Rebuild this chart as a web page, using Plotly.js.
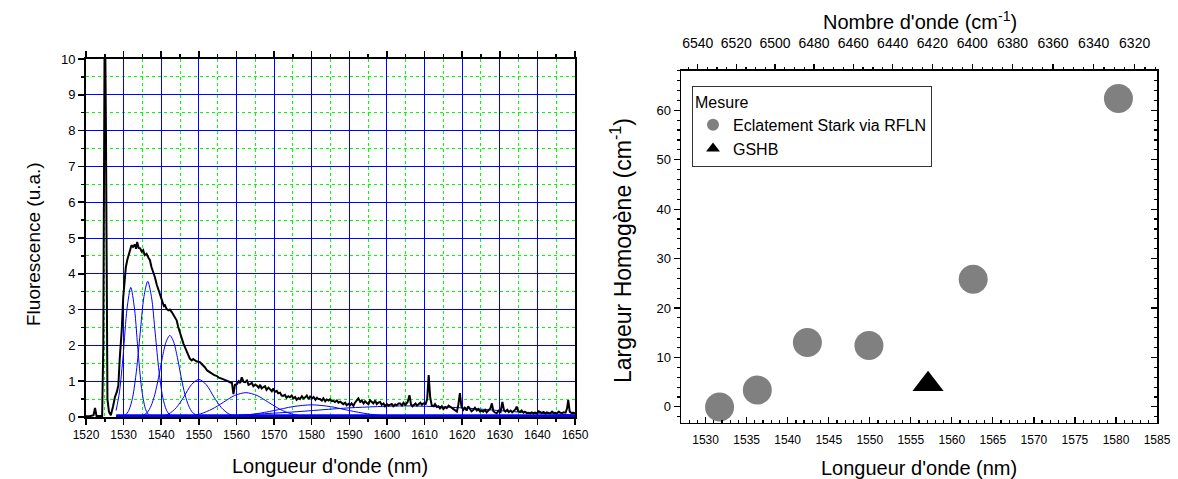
<!DOCTYPE html>
<html>
<head>
<meta charset="utf-8">
<script src="https://cdn.plot.ly/plotly-3.0.1.min.js"></script>
<style>html,body{margin:0;padding:0;background:#fff;}#chart{width:1178px;height:479px;}</style>
</head>
<body>
<div id="chart"></div>
<script>
// ---------- Left panel: fluorescence spectrum ----------
var specX = [1520.0,1521.0,1522.0,1522.4,1522.8,1523.5,1524.3,1524.6,1525.0,1525.3,1525.7,1526.1,1526.6,1527.2,1527.7,1528.2,1528.6,1529.0,1529.5,1529.9,1530.3,1530.6,1531.0,1531.5,1532.1,1532.5,1533.0,1533.3,1533.6,1534.0,1534.4,1534.8,1535.2,1535.6,1536.1,1536.6,1537.0,1537.4,1537.9,1538.3,1538.8,1539.2,1539.7,1540.1,1540.7,1541.0,1541.4,1541.9,1542.3,1542.8,1543.2,1543.6,1544.1,1544.5,1545.0,1545.5,1545.9,1546.3,1546.8,1547.2,1547.6,1548.1,1548.5,1549.0,1549.5,1550.3,1550.8,1551.2,1551.6,1552.2,1552.9,1553.5,1554.1,1554.7,1555.3,1555.9,1556.5,1557.1,1557.7,1558.3,1558.8,1559.2,1559.6,1560.1,1560.6,1561.0,1561.4,1561.9,1562.3,1562.8,1563.2,1563.6,1564.1,1564.5,1565.0,1565.4,1565.9,1566.3,1566.7,1567.1,1567.6,1568.0,1568.5,1568.9,1569.4,1569.8,1570.2,1570.7,1571.1,1571.6,1572.0,1572.4,1572.9,1573.3,1573.8,1574.2,1574.7,1575.1,1575.6,1576.0,1576.5,1576.9,1577.4,1577.8,1578.3,1578.7,1579.2,1579.6,1580.1,1580.5,1581.0,1581.4,1581.8,1582.2,1582.7,1583.1,1583.6,1584.0,1584.5,1584.9,1585.3,1585.8,1586.2,1586.7,1587.1,1587.6,1588.0,1588.4,1588.9,1589.3,1589.8,1590.2,1590.6,1591.1,1591.5,1592.0,1592.4,1592.9,1593.3,1593.8,1594.2,1594.6,1595.1,1595.5,1596.0,1596.4,1596.9,1597.3,1597.7,1598.2,1598.6,1599.1,1599.5,1600.0,1600.4,1600.8,1601.3,1601.7,1602.2,1602.6,1603.1,1603.5,1604.0,1604.4,1604.9,1605.5,1606.0,1606.4,1606.8,1607.1,1607.6,1608.0,1608.5,1608.9,1609.3,1609.7,1610.3,1610.7,1611.1,1611.5,1611.9,1612.4,1612.8,1613.3,1613.7,1614.1,1614.6,1615.0,1615.5,1615.9,1616.4,1616.8,1617.2,1617.7,1618.1,1618.6,1619.0,1619.4,1619.8,1620.3,1620.7,1621.2,1621.6,1622.1,1622.5,1623.0,1623.4,1623.9,1624.3,1624.8,1625.2,1625.6,1626.1,1626.5,1627.0,1627.5,1627.9,1628.3,1628.8,1629.2,1629.7,1630.2,1630.7,1631.1,1631.5,1632.0,1632.4,1632.9,1633.3,1633.8,1634.2,1634.5,1634.9,1635.4,1635.8,1636.3,1636.7,1637.2,1637.6,1638.1,1638.5,1639.0,1639.4,1639.9,1640.3,1640.7,1641.2,1641.6,1642.1,1642.5,1643.0,1643.4,1643.9,1644.3,1644.8,1645.2,1645.7,1646.1,1646.6,1647.0,1647.5,1647.9,1648.2,1648.6,1649.1,1649.6,1650.0];
var specY = [0.02,0.02,0.05,0.25,0.03,0.02,0.03,2.0,12.0,8.0,0.5,0.15,0.05,0.30,0.56,0.70,0.89,1.68,2.42,3.35,3.90,4.19,4.40,4.61,4.80,4.75,4.82,4.70,4.89,4.72,4.71,4.62,4.66,4.52,4.56,4.45,4.38,4.19,4.05,3.91,3.70,3.58,3.40,3.26,3.10,3.12,3.02,2.98,3.00,2.93,2.85,2.80,2.70,2.52,2.33,2.20,2.05,1.95,1.82,1.70,1.63,1.58,1.62,1.58,1.55,1.53,1.48,1.42,1.39,1.30,1.25,1.20,1.17,1.15,1.10,1.08,1.06,1.02,1.00,0.97,0.95,0.64,0.90,0.92,1.00,0.95,1.11,0.98,0.97,1.02,0.90,0.92,0.95,0.86,0.90,0.88,0.82,0.90,0.80,0.83,0.86,0.76,0.82,0.78,0.72,0.80,0.70,0.73,0.66,0.68,0.60,0.59,0.62,0.54,0.58,0.55,0.60,0.52,0.56,0.48,0.53,0.50,0.58,0.52,0.55,0.60,0.50,0.57,0.52,0.56,0.48,0.54,0.50,0.50,0.46,0.52,0.44,0.49,0.46,0.50,0.45,0.45,0.42,0.46,0.40,0.43,0.38,0.36,0.40,0.33,0.37,0.33,0.38,0.31,0.40,0.46,0.52,0.42,0.46,0.38,0.44,0.40,0.36,0.47,0.42,0.38,0.46,0.36,0.40,0.42,0.34,0.38,0.30,0.36,0.32,0.33,0.36,0.30,0.35,0.33,0.38,0.38,0.32,0.40,0.34,0.42,0.61,0.35,0.30,0.33,0.38,0.32,0.36,0.40,0.34,0.38,0.36,0.50,1.17,0.55,0.33,0.30,0.36,0.28,0.30,0.24,0.30,0.22,0.28,0.25,0.32,0.30,0.26,0.22,0.18,0.15,0.35,0.67,0.30,0.20,0.26,0.18,0.30,0.22,0.16,0.20,0.26,0.18,0.22,0.15,0.18,0.15,0.20,0.13,0.18,0.24,0.38,0.16,0.12,0.11,0.18,0.14,0.42,0.20,0.15,0.20,0.14,0.18,0.13,0.17,0.22,0.29,0.16,0.14,0.18,0.12,0.15,0.11,0.12,0.10,0.13,0.10,0.12,0.10,0.16,0.14,0.11,0.14,0.10,0.13,0.11,0.10,0.15,0.11,0.12,0.10,0.15,0.12,0.11,0.13,0.12,0.25,0.47,0.15,0.11,0.12,0.10];

// fitted components
var fit1X = [1528,1528.9,1529.9,1530.9,1531.9,1532.9,1533.9,1534.9,1535.9,1536.9,1538.5,1545,1600,1650];
var fit1Y = [0.18,0.70,1.75,3.02,3.62,3.02,1.75,0.70,0.20,0.04,0.01,0,0,0];
var fit2X = [1528,1530.4,1531.4,1532.4,1533.4,1534.4,1535.4,1536.4,1537.4,1538.4,1539.4,1540.4,1541.4,1542.4,1544.4,1550,1600,1650];
var fit2Y = [0.01,0.05,0.19,0.55,1.28,2.34,3.36,3.79,3.36,2.34,1.28,0.55,0.19,0.05,0.01,0,0,0];
var fit3X = [1528,1534.3,1536.3,1537.3,1538.3,1539.3,1540.3,1541.3,1542.3,1543.3,1544.3,1545.3,1546.3,1547.3,1548.3,1550.3,1560,1600,1650];
var fit3Y = [0,0.01,0.13,0.31,0.63,1.11,1.66,2.10,2.28,2.10,1.66,1.11,0.63,0.31,0.13,0.01,0,0,0];
var fit4X = [1528,1538,1540,1542,1544,1546,1548,1550,1552,1554,1556,1558,1560,1562,1570,1600,1650];
var fit4Y = [0.003,0.004,0.02,0.085,0.26,0.56,0.90,1.05,0.90,0.56,0.26,0.085,0.02,0.004,0,0,0];
var fit5X = [1528,1544.5,1547.5,1550.5,1553.5,1556.5,1559.5,1562.5,1565.5,1568.5,1571.5,1574.5,1577.5,1580.5,1590,1620,1650];
var fit5Y = [0,0.007,0.03,0.09,0.22,0.41,0.60,0.68,0.60,0.41,0.22,0.09,0.03,0.007,0,0,0];
var fit6X = [1528,1553,1560,1565,1570,1575,1580,1585,1590,1595,1600,1607,1650];
var fit6Y = [0,0.004,0.03,0.085,0.18,0.29,0.34,0.29,0.18,0.085,0.03,0.004,0];
var fit7X = [1528,1545,1560,1575,1590,1605,1620,1635,1650];
var fit7Y = [0.002,0.014,0.053,0.14,0.255,0.31,0.255,0.14,0.053];
var baseX = [1528,1650];
var baseY = [0.03,0.03];

// ---------- Right panel: homogeneous width ----------
var starkWl = [1531.7,1536.3,1542.4,1549.9,1562.6,1580.3];
var starkWidth = [0.0,3.4,13.0,12.4,25.8,62.4];
var gshbWl = [1557.1];
var gshbWidth = [4.6];
var waveNumLabels = [6540,6520,6500,6480,6460,6440,6420,6400,6380,6360,6340,6320];
var waveNumMinor = [];
for (var k = 6545; k >= 6310; k -= 5) waveNumMinor.push(k);

var fitTraces = [[fit1X,fit1Y],[fit2X,fit2Y],[fit3X,fit3Y],[fit4X,fit4Y],[fit5X,fit5Y],[fit6X,fit6Y],[fit7X,fit7Y]];
var data = [];
data.push({x: baseX, y: baseY, mode: 'lines', line: {color: '#0000ff', width: 3.5}, xaxis: 'x', yaxis: 'y', showlegend: false, hoverinfo: 'skip'});
fitTraces.forEach(function (f) {
  data.push({x: f[0], y: f[1], mode: 'lines', line: {color: '#0000ff', width: 1, shape: 'spline', smoothing: 0.8}, xaxis: 'x', yaxis: 'y', showlegend: false});
});
data.push({x: specX, y: specY, mode: 'lines', line: {color: '#000000', width: 2}, xaxis: 'x', yaxis: 'y', showlegend: false});
// helpers for overlay axes of the right panel
data.push({x: [], y: [], xaxis: 'x3', yaxis: 'y2', showlegend: false});
data.push({x: [], y: [], xaxis: 'x2', yaxis: 'y3', showlegend: false});

data.push({x: starkWl, y: starkWidth, mode: 'markers', name: 'Eclatement Stark via RFLN',
  marker: {symbol: 'circle', size: 29, color: '#808080'}, xaxis: 'x2', yaxis: 'y2'});
data.push({x: gshbWl, y: gshbWidth, mode: 'markers', name: 'GSHB',
  marker: {symbol: 'triangle-up', size: 27, color: '#000000'}, xaxis: 'x2', yaxis: 'y2'});

var FONT = 'Liberation Sans, Arial, sans-serif';
var W = 1178, H = 479;
function px(v) { return v / W; }
function py(v) { return 1 - v / H; }

var lx = [px(86), px(575)], ly = [py(417), py(59)];
var rx = [px(681), px(1157)], ry = [py(422.7), py(70.7)];

var layout = {
  width: W, height: H,
  margin: {l: 0, r: 0, t: 0, b: 0},
  paper_bgcolor: '#ffffff', plot_bgcolor: '#ffffff',
  font: {family: FONT, color: '#000'},
  showlegend: true,
  legend: {x: px(692), y: py(86), xanchor: 'left', yanchor: 'top',
    bgcolor: '#ffffff', bordercolor: '#333333', borderwidth: 1,
    font: {family: FONT, size: 16, color: '#000'}, itemsizing: 'constant',
    title: {text: 'Mesure', font: {family: FONT, size: 16, color: '#000'}}, tracegroupgap: 0},
  xaxis: {domain: lx, anchor: 'y', range: [1520, 1650], dtick: 10, tick0: 1520,
    showgrid: true, gridcolor: '#0000ff', gridwidth: 1,
    minor: {dtick: 5, showgrid: true, gridcolor: '#00ff00', griddash: 'dot', gridwidth: 1, ticks: 'outside', ticklen: 3, tickcolor: '#000'},
    ticks: 'outside', ticklen: 6, tickwidth: 1.5, tickcolor: '#000',
    showline: true, linecolor: '#000', linewidth: 2, mirror: 'ticks', zeroline: false,
    tickfont: {family: FONT, size: 12, color: '#000'}},
  yaxis: {domain: ly, anchor: 'x', range: [0, 10], dtick: 1, tick0: 0,
    showgrid: true, gridcolor: '#0000ff', gridwidth: 1,
    minor: {dtick: 0.5, showgrid: true, gridcolor: '#00ff00', griddash: 'dot', gridwidth: 1, ticks: 'outside', ticklen: 3, tickcolor: '#000'},
    ticks: 'outside', ticklen: 6, tickwidth: 1.5, tickcolor: '#000',
    showline: true, linecolor: '#000', linewidth: 2, mirror: true, zeroline: false,
    tickfont: {family: FONT, size: 13, color: '#000'}},
  xaxis2: {domain: rx, anchor: 'y2', range: [1527, 1585], dtick: 5, tick0: 1530, showgrid: false,
    ticks: 'inside', ticklen: 6, tickwidth: 1.2, tickcolor: '#000', ticklabelstandoff: 5,
    minor: {dtick: 1, ticks: 'inside', ticklen: 3, tickcolor: '#000', showgrid: false},
    showline: true, linecolor: '#000', linewidth: 1.5, mirror: true, zeroline: false,
    tickfont: {family: FONT, size: 12, color: '#000'}},
  yaxis2: {domain: ry, anchor: 'x2', range: [-3.2, 68], dtick: 10, tick0: 0, showgrid: false,
    ticks: 'outside', ticklen: 6, tickwidth: 1.2, tickcolor: '#000',
    minor: {dtick: 2, ticks: 'outside', ticklen: 3, tickcolor: '#000', showgrid: false},
    showline: true, linecolor: '#000', linewidth: 1.5, mirror: true, zeroline: false,
    tickfont: {family: FONT, size: 13, color: '#000'}},
  yaxis3: {overlaying: 'y2', side: 'right', anchor: 'x2', range: [-3.2, 68], dtick: 10, tick0: 0, showgrid: false,
    ticks: 'inside', ticklen: 6, tickwidth: 1.2, tickcolor: '#000', showticklabels: false,
    minor: {dtick: 2, ticks: 'inside', ticklen: 3, tickcolor: '#000', showgrid: false}, showline: false, zeroline: false},
  xaxis3: {overlaying: 'x2', side: 'top', anchor: 'y2', range: [1527, 1585], showgrid: false,
    tickmode: 'array', tickvals: waveNumLabels.map(function (k) { return 1e7 / k; }), ticktext: waveNumLabels.map(String),
    ticks: 'outside', ticklen: 6, tickwidth: 1.2, tickcolor: '#000', ticklabelstandoff: 10,
    minor: {tickmode: 'array', tickvals: waveNumMinor.map(function (k) { return 1e7 / k; }), ticks: 'outside', ticklen: 3, tickcolor: '#000', showgrid: false},
    showline: false, zeroline: false,
    tickfont: {family: FONT, size: 14, color: '#000'}},
  annotations: [
    {text: 'Fluorescence (u.a.)', xref: 'paper', yref: 'paper', x: px(33), y: py(244), textangle: -90, showarrow: false,
      xanchor: 'center', yanchor: 'middle', font: {family: FONT, size: 19, color: '#000'}},
    {text: "Longueur d'onde (nm)", xref: 'paper', yref: 'paper', x: px(330), y: py(466), showarrow: false,
      xanchor: 'center', yanchor: 'middle', font: {family: FONT, size: 20, color: '#000'}},
    {text: 'Largeur Homogène (cm<sup>-1</sup>)', xref: 'paper', yref: 'paper', x: px(621), y: py(251), textangle: -90, showarrow: false,
      xanchor: 'center', yanchor: 'middle', font: {family: FONT, size: 23, color: '#000'}},
    {text: "Longueur d'onde (nm)", xref: 'paper', yref: 'paper', x: px(919), y: py(468), showarrow: false,
      xanchor: 'center', yanchor: 'middle', font: {family: FONT, size: 20, color: '#000'}},
    {text: "Nombre d'onde (cm<sup>-1</sup>)", xref: 'paper', yref: 'paper', x: px(920), y: py(20), showarrow: false,
      xanchor: 'center', yanchor: 'middle', font: {family: FONT, size: 20, color: '#000'}}
  ]
};

Plotly.newPlot('chart', data, layout, {displayModeBar: false, staticPlot: true});
</script>
</body>
</html>
